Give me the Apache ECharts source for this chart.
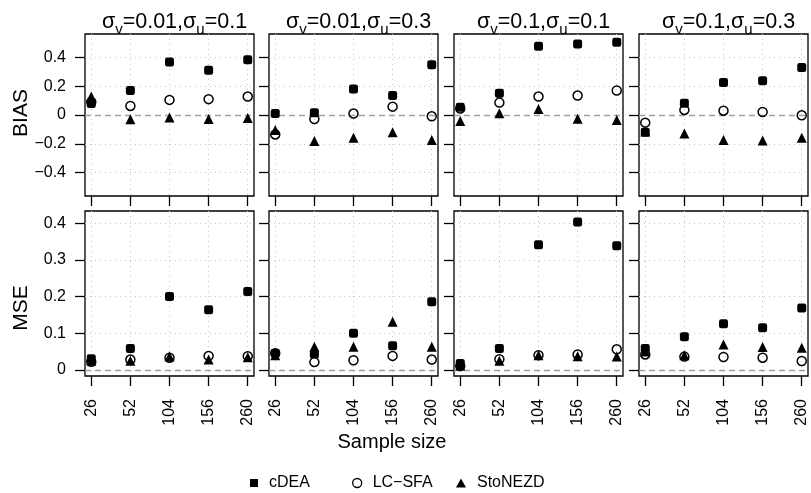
<!DOCTYPE html>
<html>
<head>
<meta charset="utf-8">
<script src="https://cdn.jsdelivr.net/npm/echarts@6/dist/echarts.min.js"></script>
<style>
html,body{margin:0;padding:0;background:#fff;}
#chart{width:811px;height:493px;}
</style>
</head>
<body>
<div id="chart"></div>
<script>
// ---- data ----
const sampleSizes = ['26', '52', '104', '156', '260'];
const panelTitles = [
  ['v', '0.01', 'u', '0.1'],
  ['v', '0.01', 'u', '0.3'],
  ['v', '0.1', 'u', '0.1'],
  ['v', '0.1', 'u', '0.3']
];
const methods = ['cDEA', 'LC\u2212SFA', 'StoNEZD'];
const biasTicks = [-0.4, -0.2, 0, 0.2, 0.4];
const mseTicks = [0, 0.1, 0.2, 0.3, 0.4];

const biasCDEA = [
  [0.08, 0.17, 0.368, 0.31, 0.384],
  [0.01, 0.016, 0.18, 0.135, 0.349],
  [0.054, 0.151, 0.477, 0.493, 0.505],
  [-0.119, 0.082, 0.225, 0.237, 0.33]
];
const biasLCSFA = [
  [0.09, 0.063, 0.105, 0.11, 0.128],
  [-0.135, -0.028, 0.01, 0.058, -0.009],
  [0.045, 0.086, 0.128, 0.135, 0.17],
  [-0.053, 0.035, 0.03, 0.021, -0.002]
];
const biasStoNEZD = [
  [0.128, -0.03, -0.018, -0.028, -0.02],
  [-0.105, -0.18, -0.158, -0.12, -0.174],
  [-0.042, 0.012, 0.042, -0.026, -0.035],
  [-0.115, -0.128, -0.174, -0.177, -0.158]
];
const mseCDEA = [
  [0.03, 0.058, 0.2, 0.164, 0.214],
  [0.045, 0.043, 0.1, 0.066, 0.186],
  [0.017, 0.058, 0.342, 0.404, 0.339],
  [0.058, 0.09, 0.126, 0.115, 0.169]
];
const mseLCSFA = [
  [0.022, 0.028, 0.033, 0.038, 0.037],
  [0.045, 0.021, 0.026, 0.038, 0.028],
  [0.01, 0.029, 0.04, 0.042, 0.056],
  [0.042, 0.036, 0.035, 0.033, 0.024]
];
const mseStoNEZD = [
  [0.025, 0.025, 0.036, 0.028, 0.034],
  [0.04, 0.063, 0.063, 0.131, 0.063],
  [0.012, 0.025, 0.04, 0.037, 0.036],
  [0.05, 0.04, 0.069, 0.062, 0.06]
];

// ---- layout ----
const FONT = 'Liberation Sans, Arial, Helvetica, sans-serif';
const panelLefts = [85, 269, 454, 639];
const panelWidth = 169;
const rowTops = [34, 211];
const rowHeights = [162, 165];
const rowRanges = [[-0.5625, 0.5625], [-0.017, 0.434]];
const rowTicks = [biasTicks, mseTicks];
const rowData = [[biasCDEA, biasLCSFA, biasStoNEZD], [mseCDEA, mseLCSFA, mseStoNEZD]];

const fmt = v => {
  if (Math.abs(v) < 1e-9) return '0';
  return (v < 0 ? '\u2212' : '') + Math.abs(v).toFixed(1);
};

const grid = [], xAxis = [], yAxis = [], series = [];
const xIdx = sampleSizes.map((s, i) => i + 1);
const gridLine = { show: true, lineStyle: { color: '#c4c4c4', width: 1, type: [1, 4] } };

for (let r = 0; r < 2; r++) {
  for (let c = 0; c < 4; c++) {
    const gi = grid.length;
    grid.push({
      left: panelLefts[c], top: rowTops[r], width: panelWidth, height: rowHeights[r],
      show: true, borderColor: '#000', borderWidth: 1.3, backgroundColor: 'transparent',
      containLabel: false
    });
    xAxis.push({
      type: 'value', gridIndex: gi, min: 0.84, max: 5.16, position: 'bottom',
      axisLine: { show: false, onZero: false },
      axisTick: { show: true, customValues: xIdx, length: 10, lineStyle: { color: '#000', width: 1.3 } },
      axisLabel: {
        show: r === 1, customValues: xIdx, rotate: 90, margin: 23,
        fontSize: 16, color: '#000', fontFamily: FONT,
        formatter: v => sampleSizes[Math.round(v) - 1]
      },
      splitLine: gridLine
    });
    yAxis.push({
      type: 'value', gridIndex: gi, min: rowRanges[r][0], max: rowRanges[r][1], position: 'left',
      axisLine: { show: false, onZero: false },
      axisTick: { show: true, customValues: rowTicks[r], length: 10, lineStyle: { color: '#000', width: 1.3 } },
      axisLabel: {
        show: c === 0, customValues: rowTicks[r], margin: 19,
        fontSize: 16, color: '#000', fontFamily: FONT, formatter: fmt
      },
      splitLine: gridLine
    });
    const sets = rowData[r];
    const styles = [
      { symbol: 'triangle', symbolSize: 10, itemStyle: { color: '#000', opacity: 1 } },
      { symbol: 'circle', symbolSize: 9, itemStyle: { color: 'rgba(0,0,0,0)', borderColor: '#000', borderWidth: 1.5, opacity: 1 } },
      { symbol: 'roundRect', symbolSize: 9, itemStyle: { color: '#000', opacity: 1 } }
    ];
    const order = [2, 1, 0];
    order.forEach((m, k) => {
      const s = {
        name: methods[m], type: 'scatter', xAxisIndex: gi, yAxisIndex: gi,
        symbol: styles[k].symbol, symbolSize: styles[k].symbolSize, itemStyle: styles[k].itemStyle,
        data: sets[m][c].map((v, i) => [xIdx[i], v]),
        z: 3 + k, silent: true
      };
      if (k === 0) {
        s.markLine = {
          silent: true, symbol: 'none', label: { show: false },
          lineStyle: { color: '#a0a0a0', width: 1.3, type: [6, 4] },
          data: [{ yAxis: 0 }], z: 2
        };
      }
      series.push(s);
    });
  }
}

const title = panelTitles.map((p, c) => ({
  text: '{m|\u03c3}{s|' + p[0] + '}{m|=' + p[1] + ',\u03c3}{s|' + p[2] + '}{m|=' + p[3] + '}',
  left: panelLefts[c] + panelWidth / 2, top: 5, textAlign: 'center',
  textStyle: {
    fontWeight: 'normal',
    rich: {
      m: { fontSize: 21.5, fontFamily: FONT, fontWeight: 'normal', color: '#000', lineHeight: 25 },
      s: { fontSize: 15, fontFamily: FONT, fontWeight: 'normal', color: '#000', lineHeight: 15, verticalAlign: 'bottom', padding: [0, 0, -2, 0] }
    }
  }
}));

const legIcons = ['rect', 'circle', 'triangle'];
const legLefts = [245, 347, 451];
const legSizes = [[8, 8], [9, 9], [10, 9]];
const legend = methods.map((m, i) => ({
  data: [{
    name: m, icon: legIcons[i],
    itemStyle: i === 1 ? { color: 'rgba(0,0,0,0)', borderColor: '#000', borderWidth: 1.3 } : { color: '#000', opacity: 1 }
  }],
  left: legLefts[i], top: 470, selectedMode: false,
  itemWidth: legSizes[i][0], itemHeight: legSizes[i][1], itemGap: 0,
  textStyle: { fontSize: 16, fontFamily: FONT, color: '#000', padding: [0, 0, 0, 6] }
}));

const chart = echarts.init(document.getElementById('chart'), null, { renderer: 'canvas' });
chart.setOption({
  animation: false,
  backgroundColor: '#fff',
  title, legend, grid, xAxis, yAxis, series,
  graphic: [
    { type: 'text', x: 21, y: 113, rotation: Math.PI / 2,
      style: { text: 'BIAS', fontSize: 21, fontFamily: FONT, fill: '#000', align: 'center', verticalAlign: 'middle' } },
    { type: 'text', x: 21, y: 308, rotation: Math.PI / 2,
      style: { text: 'MSE', fontSize: 21, fontFamily: FONT, fill: '#000', align: 'center', verticalAlign: 'middle' } },
    { type: 'text', x: 392, y: 442,
      style: { text: 'Sample size', fontSize: 20, fontFamily: FONT, fill: '#000', align: 'center', verticalAlign: 'middle' } }
  ]
});
</script>
</body>
</html>
